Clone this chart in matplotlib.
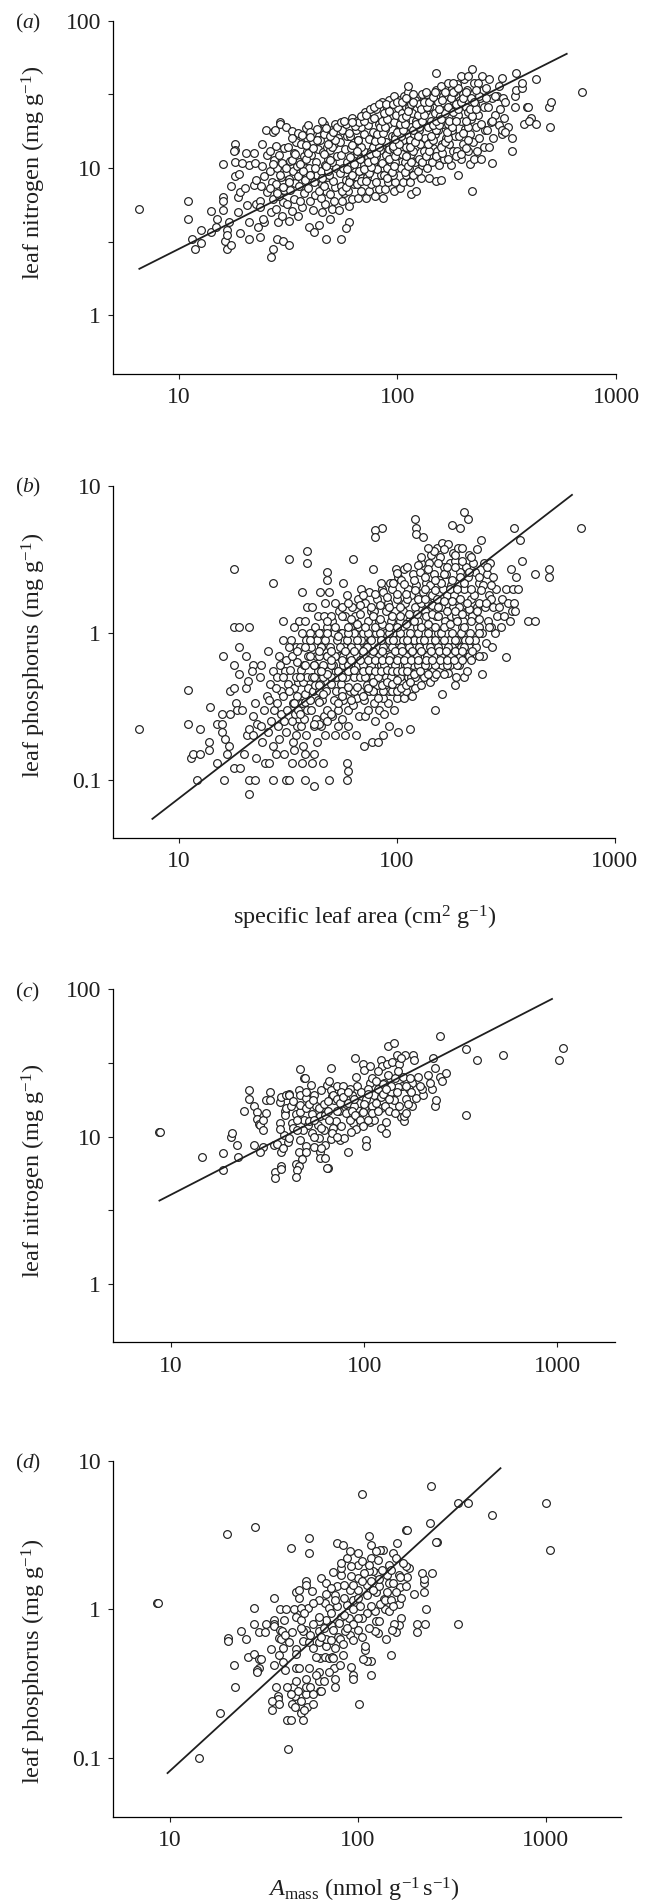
"""Leaf traits against specific leaf area and Amass, four log-log panels."""

import matplotlib
matplotlib.use('Agg')
import matplotlib.pyplot as plt

plt.rcParams['font.family'] = ['Liberation Serif', 'DejaVu Serif']
plt.rcParams['mathtext.fontset'] = 'custom'
plt.rcParams['mathtext.rm'] = 'Liberation Serif'
plt.rcParams['mathtext.it'] = 'Liberation Serif:italic'

W, H = 654, 1903

# (specific leaf area, leaf nitrogen)
sla_nitrogen = [
    (6.6,5.3),(11,6),(11,4.5),(11.5,3.3),(11.8,2.8),(12.6,3.8),(12.6,3.1),(14,3.7),(14.1,5.1),(14.8,4),(15,4.5),
    (16,10.6),(16,6.4),(16,6),(16,5.2),(16.2,3.2),(16.6,2.8),(17.4,3),(16.6,3.8),(16.6,3.5),(17,4.3),
    (18.1,14.6),(18.1,13.3),(17.8,13),(18,11),(18,8.8),(18.9,9.1),(17.4,7.6),(18.6,6.4),(19,6.9),(18.6,5),(19,3.6),
    (20.3,12.6),(22,12.6),(21,10.5),(19.5,10.8),(22.3,10.8),(20,7.3),(22,7.7),(22.5,8.3),(20.5,5.6),(22.5,5.7),
    (21,4.3),(23,4),(21,3.3),(23.5,3.4),(24,14.6),(25,18),(23.5,6),(24.5,4.3),(26.4,2.5),(27,2.8),(28,3.3),(30,3.2),(32,3),
    (29,20.6),(29,20),(27,17.5),(27.5,18),(31,19),(33,17.8),(35,17.3),(38,18.8),(39,19.7),
    (24.2,4.5),(26.5,5),(23.6,5.4),(27,6.2),(25.2,6.9),(23.8,7.6),(26.8,8),(24.6,8.8),(26.2,9.6),(23.9,10.4),(27.2,11.3),(25.4,12.3),(26,13),
    (28.4,4.3),(29.6,4.7),(27.8,5.3),(30,5.9),(28.7,6.5),(30.3,7.1),(27.9,7.8),(29.2,8.7),(30.8,9.2),(28.2,10),(29.7,10.9),(28.8,12.2),(30.2,13.6),(27.8,14.2),
    (32,4.4),(33,5.1),(31.4,5.7),(33.6,6.2),(32.2,7.1),(34,7.9),(31.8,8.4),(33.2,9.6),(34.6,10.4),(32.4,11.1),(33.8,12.6),(31.6,13.9),(34.4,15),(32.8,16),
    (35.2,4.7),(36.8,5.4),(35.8,6),(37.4,6.8),(35.4,7.5),(37.8,8.3),(36,9.2),(38,10),(35.6,11),(37.2,12),(38.4,13),(36.2,14.5),(38.6,15.9),(36.6,16.8),
    (39.4,4),(41,5.2),(40,6),(42,6.6),(39,7.3),(41.4,8),(43,9),(39.6,10),(42.4,11),(40.4,12.2),(43.2,13.5),(41.2,15),(43.6,16.5),(39.8,17.5),(42.8,18.4),
    (41.5,3.7),(44,4.1),(45,5),(46.5,5.7),(44.5,6.3),(47,7),(45.4,7.8),(47.6,8.7),(44.8,9.6),(46.6,10.5),(48,11.5),(45.8,12.8),(47.4,14),(44.2,15.5),(46.2,17),
    (47,3.3),(49,4.5),(50,5.3),(51.5,6),(49.4,6.7),(52,7.4),(50.6,8.2),(48.6,9),(52.6,10),(50.2,11),(53,12),(49,13.2),(51.4,14.6),(53.6,16),(50,18),(46,20),(45,21),
    (55,3.3),(60,4.3),(58,3.9),(54,5.2),(56,6),(57,6.8),(55,7.5),(58,8.3),(54.4,9.2),(56.6,10),(58.6,11),(55.4,12.2),(57.6,13.5),(54.8,15),(59,16.5),(56,18),(52,20),
    (60,5.5),(62,6.2),(59.4,7),(63,7.8),(61,8.6),(64,9.5),(60.4,10.4),(62.6,11.4),(65,12.4),(61.6,13.6),(63.6,15),(60.8,16.5),(64.6,18),(58,20),(62,22),
    (66,6.3),(68,7),(65.6,7.8),(69,8.6),(66.6,9.5),(70,10.5),(67.4,11.5),(71,12.8),(68.4,14),(66.2,15.5),(70.6,17),(67.8,19),(65,21),(69.6,23),
    (72,6.3),(74,7),(76,7.8),(72.6,8.7),(75,9.6),(77,10.6),(73.6,11.8),(76,13),(78,14.3),(74.4,15.8),(77.4,17.5),(73,19.5),(75.6,21.5),(71,24),
    (79,6.5),(82,7.2),(80,8),(84,8.9),(81,9.8),(85,10.8),(79.6,12),(83,13.2),(86,14.6),(80.6,16),(84,18),(82,20),(78,22),(80,25),
    (86,6.3),(88,7.2),(91,8),(87,9),(90,10),(93,11),(88.6,12.2),(92,13.5),(89,15),(94,16.5),(87.6,18.3),(91,20),(88,22.5),(90,25),(85,28),
    (96,7),(98,8),(95,9),(99,10),(97,11),(101,12.3),(95.6,13.6),(100,15),(97,16.6),(102,18.4),(96,20.5),(99,23),(101,25.5),(92,29),(96,31),
    (103,7.3),(106,8),(109,9),(104,10),(108,11),(105,12.5),(110,14),(106,15.5),(111,17),(104,19),(108,21),(105,23.5),(110,26),(103,29),(107,31),
    (115,6.7),(122,7),(114,8),(118,9),(113,10),(120,11),(116,12.5),(121,14),(114,15.5),(119,17),(115,19),(122,21),(117,23.5),(113,26),(120,29),(112,33),(112,36),
    (128,8.5),(124,9.5),(130,10.5),(126,11.6),(132,13),(127,14.5),(134,16),(125,18),(131,20),(128,22),(135,24.5),(126,27),(132,30),(129,32),
    (140,8.6),(137,10),(144,11),(139,12.3),(146,13.7),(141,15),(148,17),(138,19),(143,21),(149,23.5),(140,26),(145,29),(137,32),(150,34),
    (150,8.2),(158,8.3),(155,10.5),(163,11.5),(152,13),(160,14.5),(166,16),(154,18),(162,20),(157,22.5),(167,25),(153,28),(161,31),(158,36),(150,44),
    (175,10.5),(170,11.5),(180,13),(172,14.5),(183,16.5),(177,18),(170,20),(185,22.5),(174,25),(181,28),(171,31),(178,35),(182,33),
    (190,9),(195,11.5),(188,13),(200,14.5),(192,16.5),(203,18.5),(196,21),(190,23),(205,26),(194,29),(199,32),(187,37),(201,40),
    (220,7),(215,10.6),(225,11.5),(210,13),(222,15),(214,17),(228,19),(218,21.5),(211,24),(226,27),(216,30),(209,34),(223,38),(220,47),
    (240,11.5),(232,13),(248,14),(236,16),(252,18),(242,20),(233,23),(250,26),(238,30),(246,34),(234,38),(244,42),
    (270,10.8),(262,14),(275,16),(258,18),(268,20.5),(280,23),(260,26),(272,30),(285,31),
    (300,17),(292,19.5),(306,22),(296,25),(303,30),(300,41),(291,36),
    (333,13),(333,16),(345,31),(350,34),(345,26),(320,19),(350,44),(370,35),(370,38),(390,26),(395,26),(410,22),(380,20),(400,21),
    (430,20),(430,40),(500,19),(495,26),(505,28),(700,33),(310,28),(280,31),(270,21),(300,18),(310,17.5),
    (26,7.3),(28,6.8),(30,7.4),(32,8),(29,9),(31,10),(27,10.6),(33,11.4),(35,8.8),(37,9.6),(36,10.6),(34,12.4),(38,11.5),(40,9),(42,10),(39,12.6),(41,13.6),(38,14.4),(43,15.4),(40,16.2),
    (44,7),(46,7.6),(45,8.6),(48,9.5),(47,10.4),(49,11.4),(46,12.4),(50,13.8),(48,14.6),(52,15.5),(49,16.5),(51,17.5),(47,18.6),(53,19),(55,20.5),(57,21),
    (56,7),(58,7.4),(60,8),(62,9),(59,9.8),(63,10.6),(61,11.8),(65,13),(62,14.4),(66,15.4),(60,17.4),(64,19.4),(67,20.4),(62,20.6),(70,21),(68,22.5),(72,23),(75,25),(78,26),(82,27),
    (68,8.2),(72,8.2),(74,9.2),(70,9.9),(76,10.2),(73,11),(78,11.4),(75,12.4),(80,12.6),(77,13.8),(82,14),(79,15.2),(84,15.4),(81,17),(86,17.4),(83,19),(88,19),(85,21),(90,21.5),(87,23.5),(92,24.5),(89,27),(95,27),(100,28),(105,28),
    (90,8.6),(94,9.4),(96,10.4),(92,11.6),(98,12),(100,13),(95,14.2),(102,14.6),(98,15.8),(104,16.6),(100,17.6),(106,18),(103,20),(108,20),(105,22),(110,22.4),(112,24.5),(115,27),(118,28),(110,30),(118,32),
    (108,9.4),(112,10.4),(116,11),(110,12),(118,13),(114,13.8),(120,15),(124,16.6),(118,18),(126,19),(122,20),(130,21),(124,23),(133,23),(128,25),(136,26),(132,28),(140,28),(145,30.5),(135,33),(148,33),
    (130,11),(135,12),(140,13),(138,14.5),(145,15.5),(142,16.5),(150,18),(146,19.5),(155,19.5),(150,21),(158,21.5),(165,23.5),(155,25),(170,26),(160,29),(175,30),(180,33),(165,33),(190,35),
    (150,12),(160,12.6),(158,14),(165,15),(170,16),(168,17.6),(178,19),(172,21),(185,21),(180,24),(190,25),(185,27),(195,28),(200,30),(205,33),(170,38),(180,38),(195,42),(210,42),
    (185,12),(195,12.4),(205,13.6),(210,15.5),(200,17.4),(210,19),(205,21),(220,22.5),(215,25),(230,25),(225,28),(235,31),(228,34),(255,30),(255,35),(262,40),
]

# (specific leaf area, leaf phosphorus)
sla_phosphorus = [
    (6.6,.22),(11,.41),(11,.24),(12.6,.22),(12.2,.1),(11.4,.14),(11.7,.15),(12.6,.15),(13.8,.16),(13.8,.18),(14,.31),(15,.13),(15,.24),
    (15.8,.28),(15.8,.24),(15.8,.21),(16.2,.1),(16,.7),(18,2.7),(18,1.1),(19,1.1),(21,1.1),(18.9,.8),(20.4,.7),(18,.6),(19,.52),(17.2,.4),
    (18,.42),(18.3,.33),(18.6,.3),(17.3,.28),(16.4,.19),(17,.17),(16.6,.15),(18,.12),(19.2,.12),(21,.1),(22.5,.1),(21,.08),(27,.1),(31,.1),
    (32,.1),(38,.1),(42,.09),(49,.1),(59,.1),(60,.115),(59,.13),(27,2.2),(32,3.2),(39,3.6),(39,3),(37,1.9),(63,3.2),(78,2.7),(48,2.6),(48,2.3),
    (86,5.2),(80,5),(80,4.5),(121,6),(123,5.2),(123,4.7),(132,4.5),(180,5.4),(195,5.2),(203,6.7),(213,6),(345,5.2),(370,4.3),(245,4.3),
    (375,3.1),(335,2.7),(355,2.4),(430,2.5),(500,2.7),(500,2.4),(700,5.2),(400,1.2),(430,1.2),(318,.68),(247,.52),(185,.44),(161,.38),
    (150,.3),(115,.22),(102,.21),(71,.17),(77,.18),(82,.18),(87,.2),(92,.23),
    (20,.15),(20.6,.2),(21,.22),(19.6,.3),(20.4,.42),(20.8,.47),(22,.6),(21.6,.55),(22.4,.33),(23,.24),(22,.2),(22.6,.14),(24,.6),(23.6,.5),(24.6,.3),(24.2,.18),(25,.13),
    (26,.13),(27,.17),(25.6,.21),(26.6,.25),(27.4,.3),(25.4,.37),(26.2,.45),(27.2,.55),(25.8,.75),
    (28,.15),(29,.19),(28.6,.23),(29.4,.28),(28.2,.33),(29.6,.4),(28.4,.5),(29.2,.6),(28.8,.7),(30,.9),(30.4,.15),(31,.21),(30.6,.25),(31.4,.3),(30.2,.37),(31.6,.45),(30.8,.55),(31.2,.65),(30,1.2),
    (33,.13),(34,.16),(33.4,.18),(34.6,.2),(35,.23),(33.2,.25),(34.2,.28),(35.2,.3),(33.6,.33),(34.8,.37),(33.8,.42),(35.4,.46),(34.4,.5),(32.6,.56),(35,.63),(33.2,.7),(34.6,.8),(32.8,.9),(34,1.1),(35.6,1.2),
    (37,.13),(38,.15),(37.4,.17),(38.6,.2),(36.4,.23),(37.8,.26),(39,.3),(36.8,.33),(38.2,.38),(39.4,.42),(37.2,.46),(38.8,.5),(36.6,.56),(37.6,.6),(39.2,.7),(36.2,.8),(38.4,.9),(37,1),(38,1.2),(39,1.5),
    (41,.13),(42,.15),(43,.18),(41.6,.23),(42.6,.26),(40.4,.3),(43.4,.35),(41.2,.4),(42.2,.44),(40.8,.5),(43.6,.55),(41.8,.6),(42.8,.7),(40.6,.8),(43.2,.9),(41.4,1),(42.4,1.1),(43.8,1.3),(41,1.5),
    (46,.13),(47,.2),(45,.23),(46.6,.27),(48,.3),(45.4,.35),(47.4,.4),(44.6,.45),(46.2,.5),(48.4,.55),(45.8,.6),(47.8,.7),(44.8,.8),(46.8,.9),(45.2,1),(48.2,1.1),(46.4,1.3),(47.2,1.6),(44.4,1.9),
    (52,.2),(53.6,.23),(50.6,.27),(54,.3),(51.4,.35),(53,.4),(50,.45),(52.6,.5),(51,.6),(54.4,.7),(49.6,.8),(53.4,.9),(51.8,1),(50.4,1.2),(54.6,1.4),(52.4,1.6),(49,1.9),
    (58,.2),(59.6,.23),(56,.26),(60,.3),(57,.35),(61,.4),(55.6,.45),(58.6,.5),(56.6,.6),(60.4,.7),(57.4,.8),(59,.9),(55.4,1),(61.4,1.1),(58.2,1.3),(56.2,1.5),(59.4,1.8),(57,2.2),
    (65,.2),(67,.27),(63,.32),(66,.36),(68,.4),(64,.5),(66.6,.6),(62.6,.7),(65.6,.8),(68.4,.9),(63.6,1),(67.4,1.1),(64.6,1.3),(62.2,1.5),(66.2,1.7),(68.6,2),
    (72,.27),(74,.3),(70.6,.35),(75,.4),(73,.44),(76,.5),(71,.6),(74.6,.7),(72.6,.8),(75.6,.9),(70,1),(73.6,1.2),(76.4,1.4),(71.6,1.6),(74.4,1.9),
    (80,.25),(83,.3),(78.6,.33),(84,.4),(81,.44),(78,.5),(85,.6),(79.6,.7),(82,.8),(84.6,.9),(80.6,1),(83.4,1.2),(78.4,1.4),(81.6,1.7),(85.4,2),
    (88,.28),(91,.33),(87,.36),(92,.4),(89,.5),(93,.6),(87.6,.7),(90,.8),(92.6,.9),(88.6,1),(94,1.2),(89.6,1.4),(91.6,1.6),(86.6,1.9),(93.4,2.2),
    (97,.3),(100,.36),(95.6,.4),(102,.44),(98,.5),(103,.6),(96,.7),(99,.8),(101,.9),(96.6,1),(104,1.2),(98.6,1.4),(100.6,1.7),(95,2),(102,2.4),(99,2.7),
    (108,.36),(111,.4),(106,.46),(113,.5),(109,.6),(105.6,.7),(112,.8),(107,.9),(110,1),(114,1.2),(106.6,1.4),(109.6,1.6),(112.6,2),(105,2.3),(108.6,2.7),
    (118,.37),(121,.42),(116,.5),(123,.56),(119,.6),(117,.7),(122,.8),(120,.9),(115.6,1),(124,1.1),(118.6,1.3),(121.6,1.5),(116.6,1.8),(123,2.1),(119.6,2.5),
    (130,.44),(134,.5),(127,.6),(131,.7),(136,.8),(128,.9),(133,1),(126,1.2),(135,1.4),(129,1.6),(132,1.9),(137,2.2),(127.6,2.6),(130,3),
    (143,.46),(147,.56),(140,.6),(145,.7),(150,.8),(141,.9),(148,1),(143.6,1.1),(151,1.3),(139,1.6),(146,1.8),(142,2.1),(149,2.5),(140.6,3),(144,3.4),
    (157,.55),(161,.6),(154,.7),(164,.8),(158,.9),(155,1),(166,1.2),(160,1.5),(153,1.7),(163,2),(156,2.3),(165,2.8),(159,3.3),(154,3.8),(162,4.1),
    (172,.53),(176,.6),(170,.7),(180,.8),(174,.9),(169,1),(178,1.3),(182,1.5),(171,1.8),(177,2.1),(168,2.5),(175,3),(181,3.5),(173,4),
    (188,.5),(193,.6),(186,.7),(197,.8),(190,.9),(199,1.1),(187,1.3),(194,1.5),(184,1.8),(191,2.2),(196,2.6),(185,3.1),(192,3.8),
    (205,.5),(211,.55),(203,.7),(214,.8),(207,.9),(217,1),(202,1.2),(210,1.4),(219,1.7),(204,2),(213,2.4),(208,2.8),(216,3.4),
    (225,.7),(232,.8),(228,.9),(238,1.1),(222,1.3),(235,1.5),(226,1.8),(240,2.2),(230,2.6),(224,3),(234,3.7),
    (250,.7),(258,.85),(246,1),(262,1.2),(254,1.5),(266,1.8),(248,2.1),(260,2.5),(252,3),
    (275,.8),(282,1),(270,1.1),(288,1.3),(278,1.5),(272,1.7),(285,2),(276,2.4),(268,3),
    (300,1.1),(312,1.3),(296,1.5),(306,1.7),(318,2),(330,1.2),(338,1.4),(326,1.6),(342,2),(350,1.4),(346,1.6),(362,2),
    (40,.7),(44,.7),(48,.7),(52,.7),(57,.7),(61,.7),(66,.7),(70,.7),(77,.7),(83,.7),(93,.7),(102,.7),(110,.7),(124,.7),(138,.7),(150,.7),(160,.7),(178,.7),(195,.7),(215,.7),(240,.7),
    (42,.6),(50,.6),(60,.6),(70,.6),(76,.6),(88,.6),(98,.6),(112,.6),(125,.6),(135,.6),(150,.6),(170,.6),(190,.6),
    (38,.8),(45,.8),(55,.8),(62,.8),(73,.8),(87,.8),(95,.8),(105,.8),(114,.8),(127,.8),(142,.8),(155,.8),(172,.8),(205,.8),
    (40,1),(48,1),(56,1),(60,1),(74,1),(84,1),(92,1),(104,1),(125,1),(140,1),(160,1),(180,1),(198,1),(240,1),
    (50,.5),(56,.5),(68,.5),(72,.5),(82,.5),(94,.5),(104,.5),(122,.5),(148,.5),(44,.4),(56,.4),(64,.4),(78,.4),(87,.4),(100,.4),
    (66,.9),(76,.9),(85,.9),(96,.9),(112,.9),(134,.9),(150,.9),(165,.9),(185,.9),(215,.9),
    (44,.24),(48,.25),(50,.28),(54,.33),(56,.37),(60,.43),(62,.35),(66,.43),(70,.37),(74,.42),(78,.46),(82,.36),(86,.44),(90,.46),(95,.45),(100,.48),(105,.42),(110,.44),(115,.46),
    (48,.52),(54,.55),(60,.55),(64,.56),(70,.55),(75,.56),(80,.55),(85,.55),(90,.56),(95,.55),(100,.55),(106,.55),(112,.55),(120,.52),(128,.55),(140,.52),(152,.52),(165,.52),
    (50,.65),(56,.65),(62,.65),(68,.65),(74,.65),(80,.65),(86,.65),(92,.65),(100,.65),(108,.65),(116,.65),(126,.65),(136,.65),(146,.65),(158,.65),(170,.65),(184,.65),(200,.65),(220,.65),
    (44,.75),(50,.75),(58,.75),(64,.75),(70,.75),(78,.75),(86,.75),(98,.75),(106,.75),(118,.75),(130,.75),(144,.75),(156,.75),(168,.75),(186,.75),(200,.75),(222,.75),
    (60,1.1),(66,1.15),(72,1.1),(80,1.1),(86,1.15),(92,1.1),(100,1.1),(110,1.15),(120,1.2),(130,1.1),(140,1.15),(150,1.1),(165,1.1),(175,1.15),(190,1.2),(205,1.1),(220,1.2),(240,1.25),(265,1.1),
    (50,1.3),(56,1.3),(62,1.25),(68,1.35),(78,1.3),(84,1.25),(95,1.3),(104,1.3),(114,1.35),(124,1.35),(136,1.3),(146,1.35),(155,1.3),(170,1.4),(185,1.4),(200,1.35),(215,1.45),(235,1.4),
    (60,1.6),(68,1.55),(76,1.5),(84,1.55),(92,1.5),(104,1.5),(112,1.7),(125,1.7),(135,1.7),(145,1.55),(155,1.5),(165,1.65),(180,1.65),(195,1.7),(210,1.6),(240,1.6),(258,1.6),
    (70,1.8),(80,1.85),(90,1.75),(100,1.85),(110,1.85),(122,1.95),(135,2),(150,1.95),(160,2.2),(175,2),(190,2),(205,2.2),(220,2),(245,1.95),(270,2.1),
    (85,2.2),(96,2.2),(108,2.15),(120,2.3),(135,2.4),(150,2.3),(165,2.5),(180,2.3),(195,2.4),(215,2.6),(238,2.4),(260,2.8),
    (100,2.55),(112,2.8),(125,2.9),(140,2.7),(155,3),(170,2.8),(185,2.8),(200,3.1),(220,3.3),
    (130,3.3),(148,3.6),(165,3.7),(185,3.4),(200,3.8),(140,3.8),
    (22,.27),(24,.23),(26,.35),(28,.42),(30,.5),(32,.4),(34,.33),(36,.28),(38,.34),(40,.35),(42,.24),(44,.34),(46,.38),(44,.44),(36,.5),(38,.6),(42,.5),(45,.55),(32,.8),(35,.75),(40,.9),(44,1),(48,1.2),(52,1.1),(54,.95),
]

# (Amass, leaf nitrogen)
amass_nitrogen = [
    (8.7,10.7),(8.8,10.7),(14.4,7.3),(18.5,7.7),(18.5,5.9),(20.3,10),(20.6,10.5),(22,8.7),(22.3,7.3),(23.7,15),(25.4,20.7),(25.4,18),(27,16),(27,8.7),
    (27.9,14.7),(27.7,13.2),(28.5,12.2),(29,12),(30,13),(30,11),(31,14.5),(30,8.5),(29,7.8),(31,17.7),(32.4,17.7),(32.5,20),
    (34,8.8),(35.5,8.9),(34.5,5.7),(34.4,5.2),(37,6.3),(37,6),(37,7.9),(40.5,9.2),(38.5,10.2),(41,9.8),(36.5,12.3),(36.5,11.3),(39,15),(39,14),
    (39.5,15.6),(36.5,17.2),(37,18.6),(39.5,19),(41,19.5),(41,19),(42.5,12.3),(43,11.4),(44.5,14.3),(46.5,14.7),(46.5,16.3),(46,20.7),(46.5,28.7),
    (48.5,24.8),(49.5,25),(46.5,19),(50,18.3),(50,20),(53,22.4),(55,19),(50,15.7),(53.5,14.3),(48.5,13),(51,11.9),(46.5,9.5),(50,8.6),(46,7.8),(50,7.8),
    (47.5,7),(44.5,6.5),(46,6.3),(45,5.9),(44.5,5.3),(53.5,10.5),(57.5,12),(59,13.7),(63,14),(62,11),(58,9.8),(55,8.5),(59,7.9),(59,7.2),(63,7.2),
    (63,8.7),(67,9.6),(65,6.1),(64.5,6.1),(60,20.7),(64,22.3),(66,23.7),(67,29),(67,20.7),(70,17.7),(68,18.7),(72,22),(78,22),(76,20),(74,15),(80,16.7),
    (80,14.5),(71,12.7),(69,11.5),(76,11.7),(75,9.4),(79,9.8),(82,7.9),(87,12.3),(86,19),(92,22),(91,25.2),(90,34),(98,31),(100,28.5),(107,30),(84,21),
    (82,17),(92,15.5),(98,14.7),(91,11.3),(102,9.4),(102,8.6),(107,12.5),(108,15),(102,18),(107,23),(110,25),(112,19),(112,13),(122,11.5),(122,15.5),
    (122,18.5),(127,23),(122,33),(124,30),(131,31),(133,26),(140,32),(152,31),(147,36),(132,41),(143,43),(162,36),(179,36),(180,33),(155,34),(129,12.5),
    (129,10.6),(155,13.5),(160,12.8),(160,13.7),(152,16),(142,17.7),(165,18),(177,16),(186,18.3),(202,19),(200,21),(224,21),(218,23),(190,25.5),(177,23),
    (170,21),(157,22),(150,21.7),(137,20),(118,21),(125,22.6),(158,25.5),(232,16),(235,17.7),(232,29),(228,34),(246,48),(248,25.5),(252,24),(265,27),
    (338,39),(385,33),(338,14),(520,36),(1020,33),(1075,40),
    (94,17),(96,20),(104,21),(110,16),(115,24),(118,28),(128,16),(135,18),(138,22),(145,25),(148,20),(150,28),(165,22),(168,16.5),(172,25),
    (52,12.7),(56,16),(60,15.5),(66,13),(72,15),(84,13),(88,16),(104,13),(55,10),(60,8.4),(69,19),(86,15),
    (45,13),(48,11),(52,16.5),(54,17.8),(58,15.5),(62,16.5),(65,15),(65,17.5),(72,18),(75,17),(78,18.5),(82,20),(88,18),(90,14),(95,13),(98,11.8),(100,16.5),(105,19.5),(110,14.5),
    (115,17),(118,15),(125,19.5),(130,21),(135,15),(145,14.5),(165,14.5),(175,20),(195,22),(215,26),(45,11),(60,11.5),(42,16),(43,17.5),(55,13),(68,10.5),(72,10),(85,10.7),(38,8.4),
]

# (Amass, leaf phosphorus)
amass_phosphorus = [
    (8.6,1.1),(8.7,1.1),(14.4,.1),(18.6,.2),(20.3,3.2),(28.3,3.6),(20.4,.64),(20.5,.61),(22,.42),(22.4,.3),(24,.71),(25.6,.63),(26,.48),(28,1.02),(28,.8),
    (28,.5),(30,.46),(30.5,.46),(30,.7),(32,.7),(32.5,.8),(30,.4),(29,.39),(29,.38),(34.5,.54),(36,.85),(36,.8),(36,.77),(38.5,.72),(38,.64),(36,1.2),
    (38.7,1),(41.5,1),(40.7,.85),(38,.49),(40,.44),(36,.42),(41,.39),(39.5,.71),(39,.63),(41,.67),(37,.3),(37.5,.26),(37.5,.25),(35,.24),(35,.21),(38,.23),
    (42,.18),(44,.18),(42.5,.115),(44.5,.23),(46.5,.26),(46.5,.22),(45.5,.3),(47,.33),(50,.24),(50,.2),(51,.18),(54,.22),(58,.23),(53,.27),(53,.3),(53,.34),
    (56,.3),(62,.33),(63,.28),(64,.28),(62,.38),(55,.4),(47,.4),(49,.4),(63,.47),(67,.48),(70,.47),(73,.48),(74,.47),(75,.4),(70,.38),(76,.34),(76,.3),
    (84,.49),(81,.42),(92,.41),(94,.36),(94,.34),(102,.23),(118,.36),(118,.45),(112,.45),(107,.46),(110,.53),(109,.57),(150,.49),(68,.57),(51,.61),(47,.54),
    (47,.5),(62,.6),(44,2.6),(55,3),(55,2.4),(78,2.8),(84,2.7),(115,3.1),(118,2.7),(106,6),(245,6.8),(180,3.4),(182,3.4),(243,3.8),(265,2.85),(262,2.85),
    (340,5.2),(385,5.2),(520,4.3),(1010,5.2),(1060,2.5),(340,.8),(162,2.8),(232,1),(228,.8),(208,.8),(208,.7),(200,1.27),(226,1.3),(225,1.5),(225,1.6),
    (220,1.75),(250,1.75),(187,1.9),(180,1.97),(182,1.66),(165,1.7),(167,1.42),(165,1.08),(170,.87),(165,.78),(157,.8),(160,.7),(152,.72),(142,.63),(128,.69),
    (124,.71),(125,.83),(130,.83),(124,.97),(140,1),(147,.98),(138,1.17),(131,1.08),(125,1.3),(143,1.3),(160,1.3),(130,1.43),(147,1.5),(155,1.5),(180,1.43),
    (167,1.66),(143,1.7),(127,1.75),(120,1.8),(115,1.8),(108,1.75),(100,1.62),(92,1.68),(82,1.7),(74,1.77),(82,1.9),(82,2.05),(88,2.2),(91,2.45),(100,2.4),
    (100,2),(118,2.2),(136,2.5),(131,2.5),(125,2.45),(128,2.15),(155,2.4),(160,2.2),(147,2),(174,2.05),(64,1.63),(68,1.5),(78,1.43),(91,1.35),(100,1.35),
    (112,1.45),(112,1.25),(68,1.27),(76,1.25),(67,1.1),(70,1.02),(78,1.05),(88,1.07),(95,1),(103,1.06),(112,.95),(82,.89),(90,.87),(105,.87),(95,.8),(80,.81),
    (72,.78),(68,.85),(62,.84),(54.5,1.02),(58,.8),(62,.71),(53,.73),(51,.71),(68,.63),(79,.65),(81,.63),(91,.67),(86,.71),(74,.73),(46,1),(50,1.02),(47,.89),
    (50,.85),(52,.94),(62,.89),(47,1.3),(49,1.35),(49,1.2),(53,1.55),(53,1.46),(57,1.33),
    (40,.55),(43,.6),(45,.7),(50,.75),(55,.6),(58,.55),(60,.48),(56,.67),(64,.65),(66,.75),(72,.62),(76,.55),(84,.58),(88,.75),(95,.62),(100,.72),(105,.65),(115,.75),(48,.28),(42,.3),
    (58,.27),(66,.33),(60,.36),(44,.27),(52,.21),(85,.92),(100,.87),(72,.95),(76,1.15),(85,1.2),(95,1.15),(100,1.2),(118,1.05),(95,1.45),(85,1.45),(72,1.4),(62,1.15),(58,1.1),
    (105,1.55),(118,1.55),(130,1.6),(140,1.15),(150,1.15),(155,1.05),(170,1.2),(150,1.85),(135,1.85),(115,2),(105,2.1),(120,1.35),(92,1.95),
]

# fitted lines, end points
fit_a = ([6.6, 595], [2.07, 59.6])
fit_b = ([7.58, 638], [0.054, 8.7])
fit_c = ([8.7, 938], [3.67, 86])
fit_d = ([9.75, 575], [0.079, 8.9])

ylabel_n = r'leaf nitrogen (mg g$^{-1}$)'
ylabel_p = r'leaf phosphorus (mg g$^{-1}$)'
xlabel_sla = r'specific leaf area (cm$^{2}$ g$^{-1}$)'
xlabel_amass = r'$\mathit{A}_{\mathrm{mass}}$ (nmol g$^{-1}\,$s$^{-1}$)'

INK = '#1f1f1f'


def draw_panel(fig, box, xlim, ylim, points, fit, tag, ylabel, yticks, ylabels, ymid, tag_y, label_y):
    left, right, top, bottom = box
    ax = fig.add_axes([left / W, 1 - bottom / H, (right - left) / W, (bottom - top) / H])
    xs, ys = zip(*points)
    ax.scatter(xs, ys, s=31, facecolor='white', edgecolor=INK, linewidth=0.85, zorder=2, clip_on=False)
    ax.plot(fit[0], fit[1], color=INK, lw=1.3, zorder=3)
    ax.set_xscale('log')
    ax.set_yscale('log')
    ax.set_xlim(*xlim)
    ax.set_ylim(*ylim)
    ax.spines['top'].set_visible(False)
    ax.spines['right'].set_visible(False)
    ax.spines['left'].set_linewidth(0.9)
    ax.spines['bottom'].set_linewidth(0.9)
    ax.set_xticks([10, 100, 1000], ['10', '100', '1000'])
    ax.set_yticks(yticks, ylabels)
    ax.set_xticks([], minor=True)
    ax.set_yticks(ymid, [''] * len(ymid), minor=True)
    ax.tick_params(which='both', direction='out', length=3.6, width=0.8, color=INK)
    ax.tick_params(axis='x', labelsize=17, pad=6, labelcolor=INK)
    ax.tick_params(axis='y', labelsize=17, pad=5, labelcolor=INK)
    fig.text(15 / W, 1 - tag_y / H, '(' + r'$\mathit{' + tag + '}$' + ')', fontsize=15.5, va='center', color=INK)
    fig.text(34 / W, 1 - label_y / H, ylabel, rotation=90, fontsize=17.5, ha='center', va='center', color=INK)
    return ax


fig = plt.figure(figsize=(W / 100, H / 100), dpi=100)

draw_panel(fig, (113, 616, 20.7, 374), (5, 1000), (0.4, 100), sla_nitrogen, fit_a, 'a', ylabel_n,
           [1, 10, 100], ['1', '10', '100'], [3.16, 31.6], 23, 173)
draw_panel(fig, (113, 614.5, 486, 838), (5, 1000), (0.04, 10), sla_phosphorus, fit_b, 'b', ylabel_p,
           [0.1, 1, 10], ['0.1', '1', '10'], [], 487, 655)
draw_panel(fig, (113, 615.5, 989.3, 1342.3), (5, 2000), (0.4, 100), amass_nitrogen, fit_c, 'c', ylabel_n,
           [1, 10, 100], ['1', '10', '100'], [3.16, 31.6], 992, 1171)
draw_panel(fig, (113, 620.5, 1460.7, 1817), (5, 2500), (0.04, 10), amass_phosphorus, fit_d, 'd', ylabel_p,
           [0.1, 1, 10], ['0.1', '1', '10'], [], 1463, 1661)

fig.text(365 / W, 1 - 918 / H, xlabel_sla, fontsize=17.5, ha='center', va='center', color=INK)
fig.text(364 / W, 1 - 1890 / H, xlabel_amass, fontsize=17.5, ha='center', va='center', color=INK)

fig.savefig('out.png', dpi=100)
